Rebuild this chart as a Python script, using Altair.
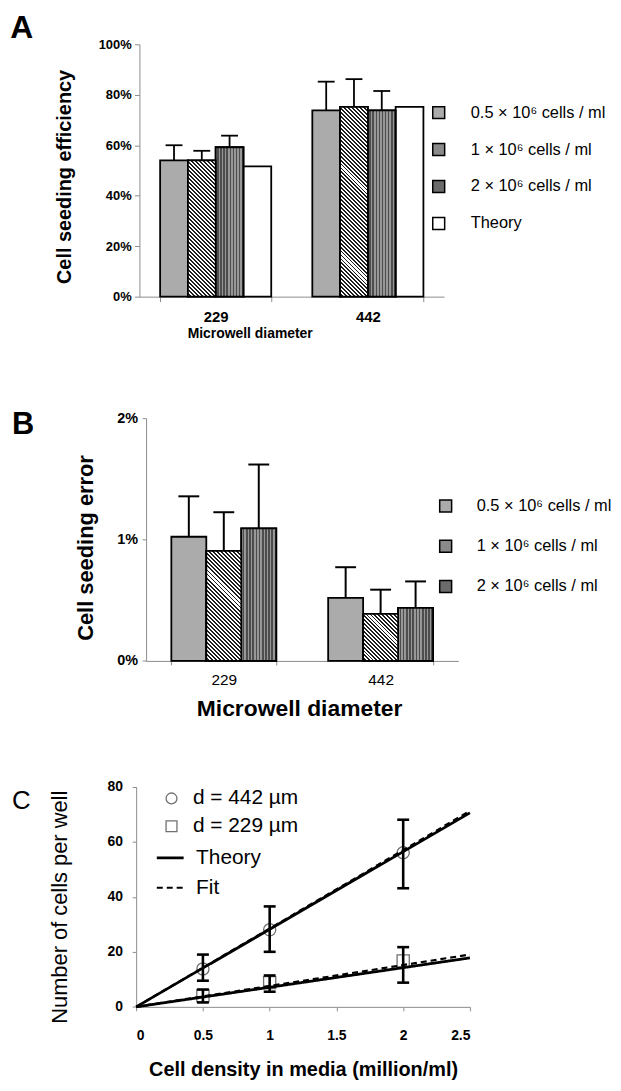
import altair as alt
import pandas as pd

FONT = "Liberation Sans"
AXIS_GRAY = "#8c8c8c"

# ---------------- data ----------------
diameters = ["229", "442"]
series_a = ["0.5 × 10⁶ cells / ml", "1 × 10⁶ cells / ml", "2 × 10⁶ cells / ml", "Theory"]
eff_05 = [0.540, 0.738]
eff_05_err = [0.060, 0.114]
eff_1 = [0.540, 0.752]
eff_1_err = [0.038, 0.110]
eff_2 = [0.592, 0.738]
eff_2_err = [0.046, 0.077]
eff_theory = [0.516, 0.752]
pct_ticks_a = [0, 0.2, 0.4, 0.6, 0.8, 1.0]

series_b = series_a[:3]
seed_err_05 = [0.01023, 0.00519]
seed_err_05_sd = [0.00333, 0.00253]
seed_err_1 = [0.00906, 0.00388]
seed_err_1_sd = [0.00319, 0.00199]
seed_err_2 = [0.01092, 0.00437]
seed_err_2_sd = [0.00526, 0.00218]
pct_ticks_b = [0, 0.01, 0.02]

series_c_pts = ["d = 442 µm", "d = 229 µm"]
series_c_lines = ["Theory", "Fit"]
density = [0.5, 1.0, 2.0]
cells_442 = [13.8, 28.0, 56.0]
cells_442_lo = [9.5, 20.0, 43.1]
cells_442_hi = [19.0, 36.5, 68.0]
cells_229 = [4.0, 8.8, 16.7]
cells_229_lo = [1.6, 5.5, 8.8]
cells_229_hi = [6.3, 11.4, 21.7]
line_x = [0.0, 2.5]
theory_442 = [0.0, 70.5]
fit_442 = [0.0, 71.2]
theory_229 = [0.0, 17.8]
fit_229 = [0.0, 19.0]
density_ticks = [0, 0.5, 1, 1.5, 2, 2.5]
cells_ticks = [0, 20, 40, 60, 80]

# ---------------- layout / style ----------------
W_A, R_A, H_A = 310.0, [3.3, 310.0], 254.0
W_B, R_B, H_B = 324.3, [10.0, 324.3], 244.4
W_C, H_C_VIEW, R_CY = 336.0, 225.3, [225.3, 3.7]
PIN_A, POUT_A = 0.27, 0.136
PIN_B, POUT_B = 0.331, 0.161
BAR_SW = 1.8


def sub_width(rng, n_groups, pin, pout, n_sub):
    step = (rng[1] - rng[0]) / (n_groups - pin + 2 * pout)
    return step * (1 - pin) / n_sub


def stops_for(n, frac, c_a, c_b):
    stops = []
    for k in range(n):
        a, b, c = k / n, (k + frac) / n, (k + 1) / n
        stops += [
            alt.GradientStop(offset=round(a, 5), color=c_a),
            alt.GradientStop(offset=round(b, 5), color=c_a),
            alt.GradientStop(offset=round(b, 5), color=c_b),
            alt.GradientStop(offset=round(c, 5), color=c_b),
        ]
    return stops


def hatch_vertical(w, period=3.2, dark="#4d4d4d", light="#979797", frac=0.5):
    n = max(1, int(round(w / period)))
    return alt.Gradient(gradient="linear", stops=stops_for(n, frac, light, dark),
                        x1=0, y1=0, x2=1, y2=0)


def hatch_diag(w, h, period=4.0, ink="#1e1e1e", paper="#ffffff", frac=0.52):
    s = (w + h) / (w * w + h * h)
    n = max(1, int(round((w + h) / period)))
    return alt.Gradient(gradient="linear", stops=stops_for(n, frac, paper, ink),
                        x1=0, y1=1, x2=w * s, y2=1 - h * s)


def letter(text, x, y, size, weight):
    return alt.Chart(pd.DataFrame({"t": [text]})).mark_text(
        align="left", baseline="alphabetic", font=FONT, fontSize=size,
        fontWeight=weight, color="black"
    ).encode(text="t:N", x=alt.value(x), y=alt.value(y))


# ---------------- panel A ----------------
rows = []
for s, vals, errs in zip(series_a, [eff_05, eff_1, eff_2, eff_theory],
                         [eff_05_err, eff_1_err, eff_2_err, [None, None]]):
    for d, v, e in zip(diameters, vals, errs):
        rows.append({"diam": d, "series": s, "value": v,
                     "upper": (v + e) if e is not None else None})
df_a = pd.DataFrame(rows)

scale_ya = alt.Scale(domain=[0, 1], nice=False)
axis_ya = alt.Axis(values=pct_ticks_a, format=".0%", labelFontSize=13, labelFontWeight="bold",
                   labelPadding=3.3, tickSize=5, offset=-3.3, domainColor=AXIS_GRAY,
                   tickColor=AXIS_GRAY, title="Cell seeding efficiency", titleFontSize=20,
                   titleFontWeight="bold", titleX=-75.5, titleY=133, titleAngle=-90,
                   titleAlign="center", titleBaseline="middle")
xa = alt.X("diam:N", sort=diameters,
           scale=alt.Scale(domain=diameters, range=R_A, paddingInner=PIN_A, paddingOuter=POUT_A),
           axis=alt.Axis(title="Microwell diameter", labelAngle=0, labelFontSize=15,
                         labelFontWeight="bold", labelPadding=8, tickBand="extent", tickSize=5,
                         domainColor=AXIS_GRAY, tickColor=AXIS_GRAY, titleFontSize=14,
                         titleFontWeight="bold", titleX=114.3, titleY=37, titleAlign="center",
                         titleBaseline="middle"))
xoa = alt.XOffset("series:N", scale=alt.Scale(domain=series_a, paddingInner=0, paddingOuter=0))
ya = alt.Y("value:Q", scale=scale_ya, axis=axis_ya)
fill_a = alt.Fill("series:N",
                  scale=alt.Scale(domain=series_a, range=["#ababab", "#8a8a8a", "#6b6b6b", "#ffffff"]),
                  legend=alt.Legend(title=None, orient="none", legendX=296.3, legendY=60.5,
                                    symbolType="square", symbolSize=144, symbolStrokeColor="black",
                                    symbolStrokeWidth=1.5, labelFont=FONT, labelFontSize=16.5,
                                    labelColor="black", rowPadding=18.2, labelOffset=24))

sw_a = sub_width(R_A, 2, PIN_A, POUT_A, 4)
bars_a = alt.Chart(df_a).mark_bar(stroke="black", strokeWidth=BAR_SW).encode(
    x=xa, xOffset=xoa, y=ya, fill=fill_a)
vstripe_a = alt.Chart(df_a).transform_filter(alt.datum.series == series_a[2]).mark_bar(
    fill=hatch_vertical(sw_a), stroke="black", strokeWidth=BAR_SW).encode(x=xa, xOffset=xoa, y=ya)
diag_a = [
    alt.Chart(df_a).transform_filter((alt.datum.series == series_a[1]) & (alt.datum.diam == d)).mark_bar(
        fill=hatch_diag(sw_a, v * H_A), stroke="black", strokeWidth=BAR_SW).encode(x=xa, xOffset=xoa, y=ya)
    for d, v in zip(diameters, eff_1)
]
rule_a = alt.Chart(df_a).transform_filter("isValid(datum.upper)").mark_rule(
    color="black", strokeWidth=1.8).encode(x=xa, xOffset=xoa, y=ya, y2="upper:Q")
cap_a = alt.Chart(df_a).transform_filter("isValid(datum.upper)").mark_point(
    shape="stroke", size=17 * 17, stroke="black", strokeWidth=1.8, filled=False, opacity=1).encode(
    x=xa, xOffset=xoa, y=alt.Y("upper:Q", scale=scale_ya, axis=axis_ya))
panel_a = alt.layer(bars_a, vstripe_a, *diag_a, rule_a, cap_a,
                    letter("A", -126.7, -6, 32, "bold")).properties(width=W_A, height=H_A)

# ---------------- panel B ----------------
rows = []
for s, vals, sds in zip(series_b, [seed_err_05, seed_err_1, seed_err_2],
                        [seed_err_05_sd, seed_err_1_sd, seed_err_2_sd]):
    for d, v, e in zip(diameters, vals, sds):
        rows.append({"diamB": d, "seriesB": s, "valueB": v, "upperB": v + e})
df_b = pd.DataFrame(rows)

scale_yb = alt.Scale(domain=[0, 0.02], nice=False)
axis_yb = alt.Axis(values=pct_ticks_b, format=".0%", labelFontSize=14.5, labelFontWeight="bold",
                   labelPadding=4.7, tickSize=4, offset=-10, domainColor=AXIS_GRAY,
                   tickColor=AXIS_GRAY, title="Cell seeding error", titleFontSize=22,
                   titleFontWeight="bold", titleX=-60.7, titleY=130.2, titleAngle=-90,
                   titleAlign="center", titleBaseline="middle")
xb = alt.X("diamB:N", sort=diameters,
           scale=alt.Scale(domain=diameters, range=R_B, paddingInner=PIN_B, paddingOuter=POUT_B),
           axis=alt.Axis(title="Microwell diameter", labelAngle=0, labelFontSize=15.5,
                         labelPadding=8.2, tickBand="extent", tickSize=4,
                         domainColor=AXIS_GRAY, tickColor=AXIS_GRAY, titleFontSize=23,
                         titleFontWeight="bold", titleX=164, titleY=48.3, titleAlign="center",
                         titleBaseline="middle"))
xob = alt.XOffset("seriesB:N", scale=alt.Scale(domain=series_b, paddingInner=0, paddingOuter=0))
yb = alt.Y("valueB:Q", scale=scale_yb, axis=axis_yb)
fill_b = alt.Fill("seriesB:N",
                  scale=alt.Scale(domain=series_b, range=["#ababab", "#8a8a8a", "#6b6b6b"]),
                  legend=alt.Legend(title=None, orient="none", legendX=303.3, legendY=80.2,
                                    symbolType="square", symbolSize=144, symbolStrokeColor="black",
                                    symbolStrokeWidth=1.5, labelFont=FONT, labelFontSize=16.5,
                                    labelColor="black", rowPadding=21.5, labelOffset=23))

sw_b = sub_width(R_B, 2, PIN_B, POUT_B, 3)
bars_b = alt.Chart(df_b).mark_bar(stroke="black", strokeWidth=BAR_SW).encode(
    x=xb, xOffset=xob, y=yb, fill=fill_b)
vstripe_b = alt.Chart(df_b).transform_filter(alt.datum.seriesB == series_b[2]).mark_bar(
    fill=hatch_vertical(sw_b), stroke="black", strokeWidth=BAR_SW).encode(x=xb, xOffset=xob, y=yb)
diag_b = [
    alt.Chart(df_b).transform_filter((alt.datum.seriesB == series_b[1]) & (alt.datum.diamB == d)).mark_bar(
        fill=hatch_diag(sw_b, v / 0.02 * H_B), stroke="black", strokeWidth=BAR_SW).encode(
        x=xb, xOffset=xob, y=yb)
    for d, v in zip(diameters, seed_err_1)
]
rule_b = alt.Chart(df_b).mark_rule(color="black", strokeWidth=2).encode(
    x=xb, xOffset=xob, y=yb, y2="upperB:Q")
cap_b = alt.Chart(df_b).mark_point(
    shape="stroke", size=21 * 21, stroke="black", strokeWidth=2, filled=False, opacity=1).encode(
    x=xb, xOffset=xob, y=alt.Y("upperB:Q", scale=scale_yb, axis=axis_yb))
panel_b = alt.layer(bars_b, vstripe_b, *diag_b, rule_b, cap_b,
                    letter("B", -125, 15.7, 31, "bold")).properties(width=W_B, height=H_B)

# ---------------- panel C ----------------
df_pts = pd.DataFrame({
    "x": density + density,
    "y": cells_442 + cells_229,
    "lo": cells_442_lo + cells_229_lo,
    "hi": cells_442_hi + cells_229_hi,
    "series": [series_c_pts[0]] * 3 + [series_c_pts[1]] * 3,
})
df_lines = pd.DataFrame({
    "x": line_x * 4,
    "y": theory_442 + theory_229 + fit_442 + fit_229,
    "diam": ["442", "442", "229", "229"] * 2,
    "kind": [series_c_lines[0]] * 4 + [series_c_lines[1]] * 4,
})

scale_xc = alt.Scale(domain=[0, 2.5], nice=False)
scale_yc = alt.Scale(domain=[0, 80], nice=False, range=R_CY)
axis_xc = alt.Axis(values=density_ticks, format="~g", labelFontSize=14, labelFontWeight="bold",
                   labelPadding=17.4, tickSize=4, domainColor=AXIS_GRAY, tickColor=AXIS_GRAY,
                   title="Cell density in media (million/ml)", titleFontSize=20,
                   titleFontWeight="bold", titleY=69.5, titleBaseline="alphabetic")
axis_yc = alt.Axis(values=cells_ticks, labelFontSize=14, labelFontWeight="bold",
                   labelPadding=9.7, tickSize=4, domainColor=AXIS_GRAY, tickColor=AXIS_GRAY,
                   title="Number of cells per well", titleFontSize=22, titleFontWeight="normal",
                   titleX=-76.7, titleY=124.5, titleAngle=-90, titleAlign="center",
                   titleBaseline="middle")
xc = alt.X("x:Q", scale=scale_xc, axis=axis_xc)
yc = alt.Y("y:Q", scale=scale_yc, axis=axis_yc)

pts_c = alt.Chart(df_pts).mark_point(filled=False, opacity=1, stroke="#707070", strokeWidth=1.3,
                                     size=150).encode(
    x=xc, y=yc,
    shape=alt.Shape("series:N", scale=alt.Scale(domain=series_c_pts, range=["circle", "square"]),
                    legend=alt.Legend(title=None, orient="none", legendX=25.1, legendY=5,
                                      symbolSize=120, symbolStrokeColor="#707070",
                                      symbolStrokeWidth=1.3, symbolFillColor="transparent",
                                      labelFont=FONT, labelFontSize=21, labelColor="black",
                                      rowPadding=6, labelOffset=11)),
)
lines_c = alt.Chart(df_lines).mark_line(color="black").encode(
    x=xc, y=yc, detail="diam:N",
    strokeDash=alt.StrokeDash("kind:N", scale=alt.Scale(domain=series_c_lines, range=[[1, 0], [6, 4]]),
                              legend=alt.Legend(title=None, orient="none", legendX=19.3, legendY=60.4,
                                                symbolType="stroke", symbolSize=729,
                                                symbolStrokeColor="black", symbolStrokeWidth=3.5,
                                                labelFont=FONT, labelFontSize=21, labelColor="black",
                                                rowPadding=5, labelOffset=11)),
    strokeWidth=alt.StrokeWidth("kind:N", scale=alt.Scale(domain=series_c_lines, range=[2.8, 2.2]),
                                legend=None),
)
rule_c = alt.Chart(df_pts).mark_rule(color="black", strokeWidth=2.6).encode(
    x=xc, y=alt.Y("lo:Q", scale=scale_yc, axis=axis_yc), y2="hi:Q")
caps_lo = alt.Chart(df_pts).mark_point(shape="stroke", size=144, stroke="black", strokeWidth=2.6,
                                       filled=False, opacity=1).encode(
    x=xc, y=alt.Y("lo:Q", scale=scale_yc, axis=axis_yc))
caps_hi = alt.Chart(df_pts).mark_point(shape="stroke", size=144, stroke="black", strokeWidth=2.6,
                                       filled=False, opacity=1).encode(
    x=xc, y=alt.Y("hi:Q", scale=scale_yc, axis=axis_yc))
panel_c = alt.layer(pts_c, lines_c, rule_c, caps_lo, caps_hi,
                    letter("C", -125, 26, 26, "normal")).properties(width=W_C, height=H_C_VIEW)

# ---------------- assemble ----------------
chart = alt.vconcat(panel_a, panel_b, panel_c, spacing=122.3, bounds="flush").resolve_scale(
    x="independent", y="independent", fill="independent", xOffset="independent",
    shape="independent", strokeDash="independent", strokeWidth="independent"
).resolve_legend(
    fill="independent", shape="independent", strokeDash="independent", strokeWidth="independent"
).properties(
    padding={"left": 2, "top": 1, "right": 0, "bottom": 0}
).configure_view(stroke=None).configure_axis(
    labelFont=FONT, titleFont=FONT, labelColor="black", titleColor="black", grid=False
)

chart.save("out.html", embed_options={"renderer": "svg", "actions": False})
